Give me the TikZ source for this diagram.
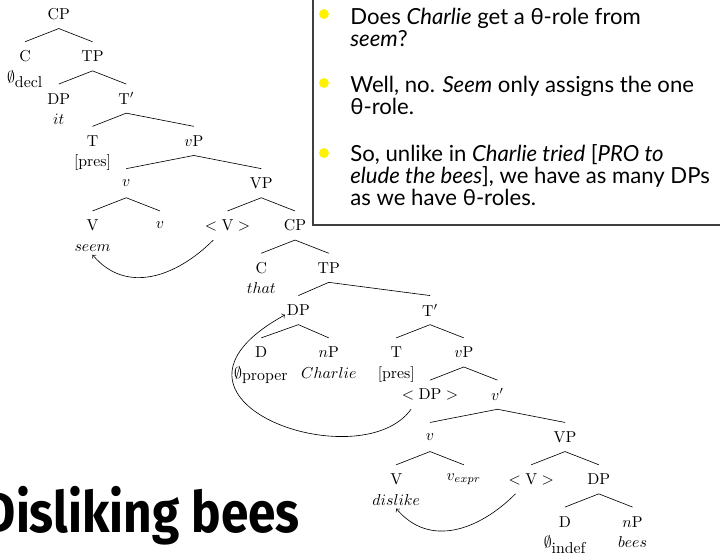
\documentclass[tikz,border=0pt]{standalone}
\usepackage{amsmath,amssymb}
\usepackage{fontspec}
\usepackage{tikz}
\newfontfamily\slidefont{Lato}
\newfontfamily\headfont[FakeStretch=0.87]{Fira Sans}

\tikzset{
  cat/.style={inner sep=1pt, minimum height=18pt},
  under/.style={anchor=base, yshift=-13pt, inner sep=2pt},
  itemtext/.style={anchor=base west, align=left, inner sep=0pt,
    font=\slidefont\fontsize{14}{13.8}\selectfont},
  itemdot/.style={circle, fill=yellow, inner sep=0pt, minimum size=0.22cm},
}

\begin{document}
\begin{tikzpicture}
\useasboundingbox (0,0) rectangle (16,-12.267);

\draw[black!75, line width=0.8pt, fill=white] (6.956,-5.0) rectangle (16.5,0.5);
\node[itemdot] (dotA) at (7.2,-0.311) {};
\node[itemdot] (dotB) at (7.2,-1.844) {};
\node[itemdot] (dotC) at (7.2,-3.4) {};
% anchored on the last line of each item
\node[itemtext] (itemA) at (7.778,-1.04) {Does \textit{Charlie} get a θ-role from\\ \textit{seem}?};
\node[itemtext] (itemB) at (7.778,-2.54) {Well, no. \textit{Seem} only assigns the one\\ θ-role.};
\node[itemtext] (itemC) at (7.778,-4.56) {So, unlike in \textit{Charlie tried} [\textit{PRO to}\\ \textit{elude the bees}], we have as many DPs\\ as we have θ-roles.};

\node[anchor=base east, inner sep=0pt, font=\headfont\bfseries\fontsize{36}{40}\selectfont] (title) at (6.667,-11.822) {Disliking bees};

\begin{scope}[x=0.75cm, y=0.94cm, shift={(0.556cm,-0.311cm)}]
\node[cat] (cpA) at (1,0) {CP};
\node[cat] (cA) at (0,-1) {C};
\node[cat] (tpA) at (2,-1) {TP};
\node[cat] (dpA) at (1,-2) {DP};
\node[cat] (tbarA) at (3,-2) {T\('\)};
\node[cat] (tA) at (2,-3) {T};
\node[cat] (vpA) at (5,-3) {\(v\)P};
\node[cat] (vA) at (3,-4) {\(v\)};
\node[cat] (VPA) at (7,-4) {VP};
\node[cat] (VA) at (2,-5) {V};
\node[cat] (vheadA) at (4,-5) {\(v\)};
\node[cat] (lowVA) at (6,-5) {\(<\mathrm{V}>\)};
\node[cat] (cpB) at (8,-5) {CP};
\node[cat] (cB) at (7,-6) {C};
\node[cat] (tpB) at (9,-6) {TP};
\node[cat] (dpB) at (8.1,-7) {DP};
\node[cat] (dB) at (7,-8) {D};
\node[cat] (npB) at (9,-8) {\(n\)P};
\node[cat] (tbarB) at (12,-7) {T\('\)};
\node[cat] (tB) at (11,-8) {T};
\node[cat] (vpB) at (13,-8) {\(v\)P};
\node[cat] (lowDPB) at (12,-9) {\(<\mathrm{DP}>\)};
\node[cat] (vbarB) at (14,-9) {\(v'\)};
\node[cat] (vB) at (12,-10) {\(v\)};
\node[cat] (VPB) at (16,-10) {VP};
\node[cat] (VB) at (11,-11) {V};
\node[cat] (vexprB) at (13,-11) {\(v_{expr}\)};
\node[cat] (lowVB) at (15,-11) {\(<\mathrm{V}>\)};
\node[cat] (dpC) at (17,-11) {DP};
\node[cat] (dC) at (16,-12) {D};
\node[cat] (npC) at (18,-12) {\(n\)P};

\node[under] (declA) at (cA.base) {\(\emptyset_{\mbox{decl}}\)};
\node[under] (itA) at (dpA.base) {\(it\)};
\node[under] (presA) at (tA.base) {[pres]};
\node[under] (seem) at (VA.base) {\(seem\)};
\node[under] (thatB) at (cB.base) {\(that\)};
\node[under] (properB) at (dB.base) {\(\emptyset_{\mbox{proper}}\)};
\node[under] (charlie) at (npB.base) {\(Charlie\)};
\node[under] (presB) at (tB.base) {[pres]};
\node[under] (dislike) at (VB.base) {\(dislike\)};
\node[under] (indefC) at (dC.base) {\(\emptyset_{\mbox{indef}}\)};
\node[under] (bees) at (npC.base) {\(bees\)};

\draw (cA.north) -- (cpA.south) -- (tpA.north);
\draw (dpA.north) -- (tpA.south) -- (tbarA.north);
\draw (tA.north) -- (tbarA.south) -- (vpA.north);
\draw (vA.north) -- (vpA.south) -- (VPA.north);
\draw (VA.north) -- (vA.south) -- (vheadA.north);
\draw (lowVA.north) -- (VPA.south) -- (cpB.north);
\draw (cB.north) -- (cpB.south) -- (tpB.north);
\draw (dpB.north) -- (tpB.south) -- (tbarB.north);
\draw (dB.north) -- (dpB.south) -- (npB.north);
\draw (tB.north) -- (tbarB.south) -- (vpB.north);
\draw (lowDPB.north) -- (vpB.south) -- (vbarB.north);
\draw (vB.north) -- (vbarB.south) -- (VPB.north);
\draw (VB.north) -- (vB.south) -- (vexprB.north);
\draw (lowVB.north) -- (VPB.south) -- (dpC.north);
\draw (dC.north) -- (dpC.south) -- (npC.north);

\draw[->,out=-135,in=-50,looseness=1.1] ([xshift=-9pt]lowVA.south) to (seem.south);
\draw[->,out=-135,in=-50,looseness=1.1] ([xshift=-10pt]lowVB.south) to (dislike.south);
\draw[->] ([xshift=-12pt]lowDPB.south) .. controls (9.93,-11.02) and (3.11,-9.13) .. ([yshift=-3pt]dpB.west);
\end{scope}
\end{tikzpicture}
\end{document}
